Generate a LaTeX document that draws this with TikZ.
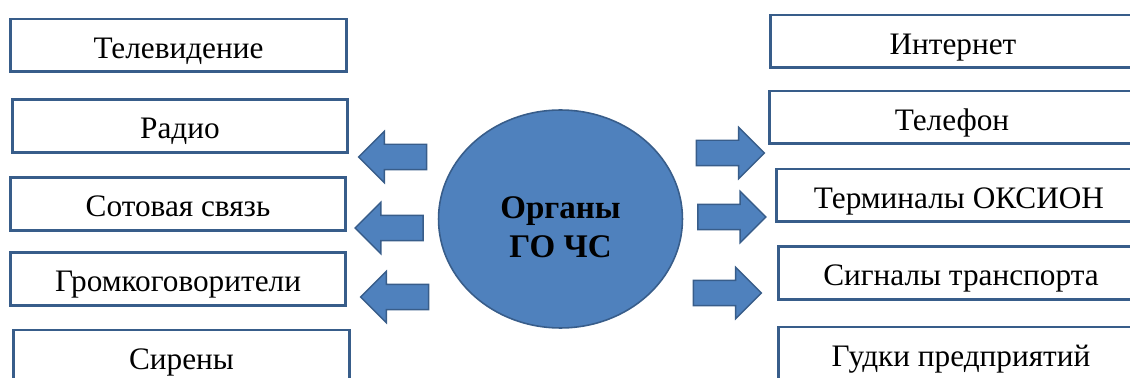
\documentclass[tikz,border=0pt]{standalone}
\usepackage{fontspec}
\setmainfont{Liberation Serif}
\usepackage{xcolor}
\usepackage{tikz}
\usetikzlibrary{calc}
\usetikzlibrary{shapes}
\usetikzlibrary{shapes.geometric}
\usetikzlibrary{shapes.arrows}
\definecolor{gobody}{HTML}{4F81BD}
\definecolor{goline}{HTML}{385D8A}
\tikzstyle{channel} = [rectangle, draw=goline, line width=1.7pt, fill=white, minimum height=1.06cm, text height=0.62cm, text depth=0.1cm, font=\fontsize{17.8}{21}\selectfont]
\tikzstyle{lchan} = [channel, minimum width=6.72cm]
\tikzstyle{rchan} = [channel, minimum width=7.3cm]
\tikzstyle{blockarrow} = [single arrow, draw=goline, fill=gobody, line width=0.8pt, minimum height=1.36cm, inner sep=0.24cm, single arrow head extend=0.26cm, single arrow tip angle=90]

\begin{document}
\begin{tikzpicture}[x=0.02cm, y=-0.02cm]
\clip (0,0) rectangle (1130,378);
%\fill[white] (0,0) rectangle (1130,378);
\node [lchan] (tv) at (178.5, 45.5) {Телевидение};
\node [lchan] (radio) at (180, 126) {Радио};
\node [lchan] (cell) at (178, 204) {Сотовая связь};
\node [lchan] (loud) at (178, 279) {Громкоговорители};
\node [lchan] (siren) at (181.5, 356.5) {Сирены};
\node [rchan] (inet) at (953, 41.5) {Интернет};
\node [rchan] (phone) at (952, 117.5) {Телефон};
\node [rchan] (oksion) at (959, 195.5) {Терминалы ОКСИОН};
\node [rchan] (transp) at (961, 273) {Сигналы транспорта};
\node [rchan] (hooter) at (961, 353.5) {Гудки предприятий};
\node [ellipse, draw=goline, fill=gobody, line width=0.9pt, minimum width=4.88cm, minimum height=4.36cm] (gochs) at (560.5, 219) {};
\node [draw=none, align=center, font=\fontsize{18.8}{22.2}\selectfont\bfseries] (gochstext) at ($(gochs.center)+(0,8.5)$) {Органы\\ГО ЧС};
\node [blockarrow, shape border rotate=180] (la) at (399, 157) {};
\node [blockarrow, shape border rotate=180] (lb) at (395.5, 228) {};
\node [blockarrow, shape border rotate=180] (lc) at (401, 297) {};
\node [blockarrow] (ra) at (724, 153) {};
\node [blockarrow] (rb) at (725.5, 217) {};
\node [blockarrow] (rc) at (721, 293) {};
\end{tikzpicture}
\end{document}
